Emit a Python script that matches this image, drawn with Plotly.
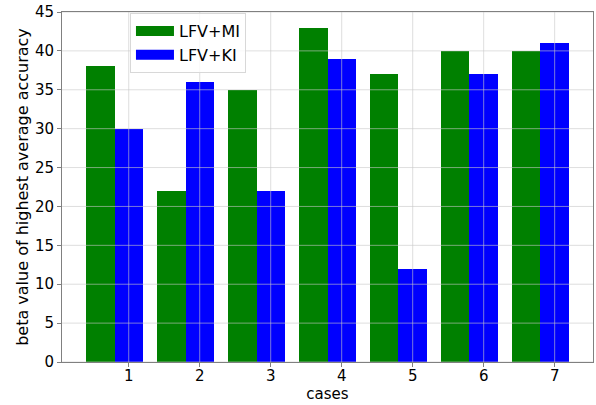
import plotly.graph_objects as go

cases = [1, 2, 3, 4, 5, 6, 7]
lfv_mi = [38, 22, 35, 43, 37, 40, 40]
lfv_ki = [30, 36, 22, 39, 12, 37, 41]
y_ticks = [0, 5, 10, 15, 20, 25, 30, 35, 40, 45]
series_names = ["LFV+MI", "LFV+KI"]
series_colors = ["green", "blue"]

bar_w = 0.4
font = "DejaVu Sans"

fig = go.Figure()
fig.add_trace(go.Bar(x=[c - bar_w for c in cases], y=lfv_mi, width=bar_w,
                     name=series_names[0], showlegend=False,
                     marker=dict(color=series_colors[0], line=dict(width=0))))
fig.add_trace(go.Bar(x=cases, y=lfv_ki, width=bar_w,
                     name=series_names[1], showlegend=False,
                     marker=dict(color=series_colors[1], line=dict(width=0))))
# legend entries with wide rectangular patches
for nm, col in zip(series_names, series_colors):
    fig.add_trace(go.Scatter(x=[None], y=[None], mode="lines", name=nm,
                             line=dict(color=col, width=10)))

# grid drawn above bars (as in the reference)
for t in y_ticks:
    fig.add_shape(type="line", xref="paper", x0=0, x1=1, yref="y", y0=t, y1=t,
                  line=dict(color="rgba(200,200,200,0.6)", width=1), layer="above")
for c in cases:
    fig.add_shape(type="line", yref="paper", y0=0, y1=1, xref="x", x0=c, x1=c,
                  line=dict(color="rgba(200,200,200,0.6)", width=1), layer="above")

fig.update_layout(
    width=596, height=405,
    margin=dict(l=62, r=3, t=12, b=43),
    plot_bgcolor="white", paper_bgcolor="white",
    barmode="overlay", bargap=0,
    font=dict(family=font, size=15, color="black"),
    showlegend=True,
    legend=dict(x=0.128, y=0.997, xanchor="left", yanchor="top",
                bgcolor="rgba(255,255,255,0.8)", bordercolor="#d8d8d8", borderwidth=1,
                font=dict(size=16), itemwidth=38, tracegroupgap=2),
)
fig.update_xaxes(range=[0.06, 7.54], tickvals=cases, ticktext=[str(c) for c in cases],
                 showgrid=False, zeroline=False, showline=True, mirror=True,
                 linecolor="#808080", linewidth=1, ticks="outside", ticklen=4,
                 tickcolor="#808080", tickfont=dict(size=15), automargin=False,
                 ticklabelstandoff=-4,
                 title=dict(text="cases", font=dict(size=15), standoff=0))
fig.update_yaxes(range=[0, 45], tickvals=y_ticks,
                 showgrid=False, zeroline=False, showline=True, mirror=True,
                 linecolor="#808080", linewidth=1, ticks="outside", ticklen=4,
                 tickcolor="#808080", tickfont=dict(size=15), automargin=False,
                 title=dict(text="beta value of highest average accuracy",
                            font=dict(size=16), standoff=2))

fig.write_html("out.html", config={"displayModeBar": False},
               post_script="document.body.style.margin='0';")
